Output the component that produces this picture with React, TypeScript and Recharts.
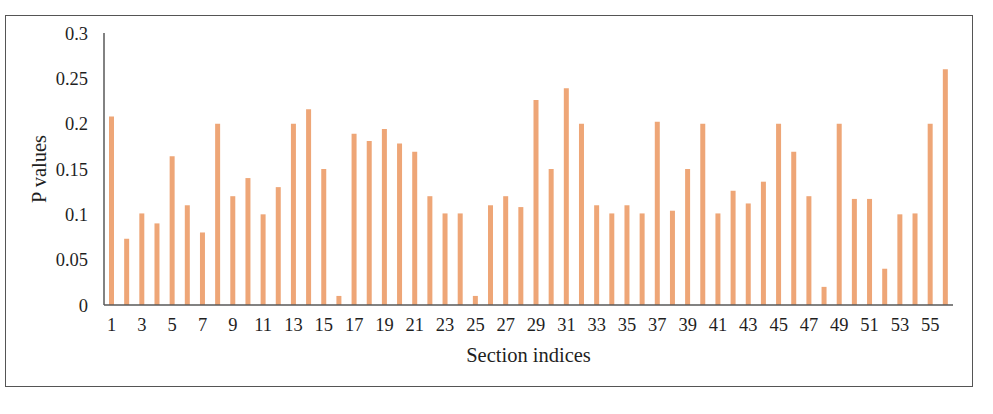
import React from 'react';
import { BarChart, Bar, XAxis, YAxis, Label } from 'recharts';

// section indices 1..56
const sections = [
  1, 2, 3, 4, 5, 6, 7, 8, 9, 10, 11, 12, 13, 14, 15, 16, 17, 18, 19, 20,
  21, 22, 23, 24, 25, 26, 27, 28, 29, 30, 31, 32, 33, 34, 35, 36, 37, 38, 39, 40,
  41, 42, 43, 44, 45, 46, 47, 48, 49, 50, 51, 52, 53, 54, 55, 56,
];

// P value for each section
const pValues = [
  0.208, 0.073, 0.101, 0.09, 0.164, 0.11, 0.08, 0.2, 0.12, 0.14,
  0.1, 0.13, 0.2, 0.216, 0.15, 0.01, 0.189, 0.181, 0.194, 0.178,
  0.169, 0.12, 0.101, 0.101, 0.01, 0.11, 0.12, 0.108, 0.226, 0.15,
  0.239, 0.2, 0.11, 0.101, 0.11, 0.101, 0.202, 0.104, 0.15, 0.2,
  0.101, 0.126, 0.112, 0.136, 0.2, 0.169, 0.12, 0.02, 0.2, 0.117,
  0.117, 0.04, 0.1, 0.101, 0.2, 0.26,
];

const yTicks = [0, 0.05, 0.1, 0.15, 0.2, 0.25, 0.3];

const data = sections.map((s, i) => ({ name: String(s), value: pValues[i] }));

const FONT = '"Liberation Serif", "Times New Roman", serif';
const TEXT = '#1f1f1f';

export default function App() {
  return (
    <div style={{ position: 'absolute', left: 0, top: 0, width: 993, height: 414, background: '#fff' }}>
      <div
        style={{
          position: 'absolute', left: 5, top: 15, width: 968, height: 372,
          border: '1.5px solid #555', boxSizing: 'border-box',
        }}
      />
      <div style={{ position: 'absolute', left: 0, top: 0 }}>
        <BarChart
          width={993}
          height={414}
          data={data}
          margin={{ top: 33, right: 40, left: 44, bottom: 49 }}
          barCategoryGap={0}
        >
          <XAxis
            dataKey="name"
            interval={1}
            tickLine={false}
            tickSize={0}
            tickMargin={13}
            height={60}
            axisLine={{ stroke: '#595959', strokeWidth: 1.5 }}
            tick={{ fill: TEXT, fontSize: 18.5, fontFamily: FONT }}
          >
            <Label
              content={({ viewBox }: any) => (
                <text
                  x={viewBox.x + viewBox.width / 2}
                  y={viewBox.y + 57}
                  textAnchor="middle"
                  fill={TEXT}
                  fontSize={20.5}
                  fontFamily={FONT}
                >
                  Section indices
                </text>
              )}
            />
          </XAxis>
          <YAxis
            width={60}
            domain={[0, 0.3]}
            ticks={yTicks}
            tickLine={false}
            tickSize={0}
            tickMargin={16}
            axisLine={{ stroke: '#595959', strokeWidth: 1.5 }}
            tick={{ fill: TEXT, fontSize: 18.5, fontFamily: FONT }}
          >
            <Label
              content={({ viewBox }: any) => (
                <text
                  x={0}
                  y={0}
                  transform={`translate(${viewBox.x + 2}, ${viewBox.y + viewBox.height / 2}) rotate(-90)`}
                  textAnchor="middle"
                  fill={TEXT}
                  fontSize={20.5}
                  fontFamily={FONT}
                >
                  P values
                </text>
              )}
            />
          </YAxis>
          <Bar dataKey="value" fill="#EEA677" barSize={5} isAnimationActive={false} />
        </BarChart>
      </div>
    </div>
  );
}
